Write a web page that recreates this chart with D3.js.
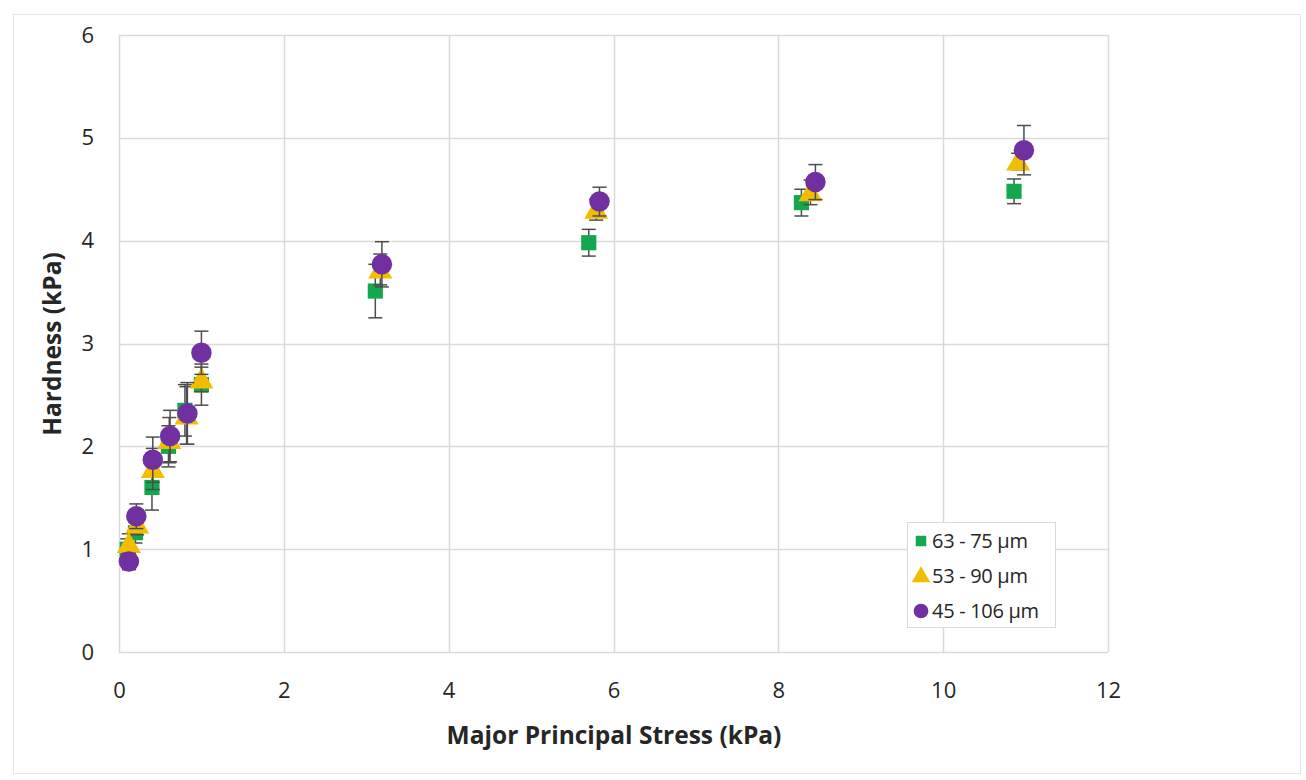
<!DOCTYPE html>
<html>
<head>
<meta charset="utf-8">
<script src="https://cdn.jsdelivr.net/npm/d3@7"></script>
<style>
  html, body { margin: 0; padding: 0; background: #fff; }
  svg { display: block; }
  text { font-family: "Open Sans", "Noto Sans", sans-serif; fill: #262626; }
</style>
</head>
<body>
<svg id="chart" width="1306" height="780"></svg>
<script>
// Major principal stress (kPa) per size fraction
const stressA = [0.10, 0.20, 0.40, 0.60, 0.80, 1.00, 3.11, 5.70, 8.28, 10.86];
const stressB = [0.12, 0.22, 0.41, 0.61, 0.82, 1.00, 3.17, 5.79, 8.39, 10.91];
const stressC = [0.12, 0.21, 0.41, 0.62, 0.83, 1.00, 3.19, 5.83, 8.45, 10.98];

// Hardness (kPa) per size fraction
const hardA = [1.00, 1.16, 1.60, 2.00, 2.35, 2.60, 3.51, 3.98, 4.37, 4.48];
const hardB = [1.05, 1.24, 1.78, 2.06, 2.30, 2.65, 3.72, 4.30, 4.47, 4.77];
const hardC = [0.88, 1.32, 1.87, 2.10, 2.32, 2.91, 3.77, 4.38, 4.57, 4.88];

// Standard deviations (kPa)
const errA = [0.10, 0.10, 0.22, 0.20, 0.25, 0.20, 0.26, 0.13, 0.13, 0.12];
const errB = [0.10, 0.10, 0.20, 0.22, 0.28, 0.12, 0.15, 0.10, 0.12, 0.08];
const errC = [0.08, 0.12, 0.22, 0.25, 0.30, 0.21, 0.22, 0.14, 0.17, 0.24];

const seriesNames = ["63 - 75 \u00b5m", "53 - 90 \u00b5m", "45 - 106 \u00b5m"];
const xTicks = [0, 2, 4, 6, 8, 10, 12];
const yTicks = [0, 1, 2, 3, 4, 5, 6];

const colors = ["#13a84f", "#f2bd00", "#7030a0"];
const shapes = [d3.symbolSquare, d3.symbolTriangle, d3.symbolCircle];
const sizes = [230, 250, 330];

const svg = d3.select("#chart");
const plot = { left: 119, top: 35, right: 1108, bottom: 652 };

// outer frame
svg.append("rect")
  .attr("x", 13.5).attr("y", 14.5).attr("width", 1287).attr("height", 759)
  .attr("fill", "#fff").attr("stroke", "#e6e6e6").attr("stroke-width", 1);

const x = d3.scaleLinear().domain([0, 12]).range([plot.left, plot.right]);
const y = d3.scaleLinear().domain([0, 6]).range([plot.bottom, plot.top]);

// gridlines
const grid = svg.append("g");
grid.selectAll("line.v").data(xTicks).join("line")
  .attr("x1", d => Math.round(x(d)) + 0.5).attr("x2", d => Math.round(x(d)) + 0.5)
  .attr("y1", plot.top).attr("y2", plot.bottom)
  .attr("stroke", "#d9d9d9").attr("stroke-width", 1.5);
grid.selectAll("line.h").data(yTicks).join("line")
  .attr("y1", d => Math.round(y(d)) + 0.5).attr("y2", d => Math.round(y(d)) + 0.5)
  .attr("x1", plot.left).attr("x2", plot.right)
  .attr("stroke", "#d9d9d9").attr("stroke-width", 1.5);

// axes (labels only, Excel style)
const xAxis = svg.append("g").attr("transform", `translate(0,${plot.bottom})`)
  .call(d3.axisBottom(x).tickValues(xTicks).tickFormat(d3.format("d")).tickSize(0).tickPadding(30));
xAxis.select(".domain").remove();
xAxis.selectAll("text").attr("font-size", 22).attr("fill", "#262626");

const yAxis = svg.append("g").attr("transform", `translate(${plot.left},0)`)
  .call(d3.axisLeft(y).tickValues(yTicks).tickFormat(d3.format("d")).tickSize(0).tickPadding(25));
yAxis.select(".domain").remove();
yAxis.selectAll("text").attr("font-size", 22).attr("fill", "#262626");

// axis titles
svg.append("text")
  .attr("x", 614).attr("y", 744)
  .attr("text-anchor", "middle").attr("font-size", 24.5).attr("font-weight", "bold")
  .text("Major Principal Stress (kPa)");
svg.append("text")
  .attr("transform", "translate(61,344) rotate(-90)")
  .attr("text-anchor", "middle").attr("font-size", 24.5).attr("font-weight", "bold")
  .text("Hardness (kPa)");

const series = [
  { xs: stressA, ys: hardA, es: errA },
  { xs: stressB, ys: hardB, es: errB },
  { xs: stressC, ys: hardC, es: errC }
];

series.forEach((s, i) => {
  const pts = s.xs.map((v, k) => ({ x: v, y: s.ys[k], e: s.es[k] }));
  const g = svg.append("g");
  const eb = g.append("g").attr("stroke", "#4d4d4d").attr("stroke-width", 1.5);
  pts.forEach(p => {
    const cx = x(p.x);
    eb.append("line").attr("x1", cx).attr("x2", cx)
      .attr("y1", y(p.y - p.e)).attr("y2", y(p.y + p.e));
    [p.y - p.e, p.y + p.e].forEach(v => {
      eb.append("line").attr("x1", cx - 7).attr("x2", cx + 7)
        .attr("y1", y(v)).attr("y2", y(v));
    });
  });
  g.selectAll("path.m").data(pts).join("path")
    .attr("d", d3.symbol().type(shapes[i]).size(sizes[i]))
    .attr("transform", d => `translate(${x(d.x)},${y(d.y) + (i === 1 ? 2 : 0)})`)
    .attr("fill", colors[i]);
});

// legend
const lg = svg.append("g");
lg.append("rect").attr("x", 907.5).attr("y", 522.5).attr("width", 148).attr("height", 105)
  .attr("fill", "#fff").attr("stroke", "#d9d9d9").attr("stroke-width", 1);
seriesNames.forEach((name, i) => {
  const cy = 541 + i * 35;
  lg.append("path")
    .attr("d", d3.symbol().type(shapes[i]).size([110, 150, 170][i]))
    .attr("transform", `translate(921,${cy + (i === 1 ? 1 : 0)})`)
    .attr("fill", colors[i]);
  lg.append("text").attr("x", 932).attr("y", cy + 7)
    .attr("font-size", 20).attr("letter-spacing", -0.3).text(name);
});
</script>
</body>
</html>
